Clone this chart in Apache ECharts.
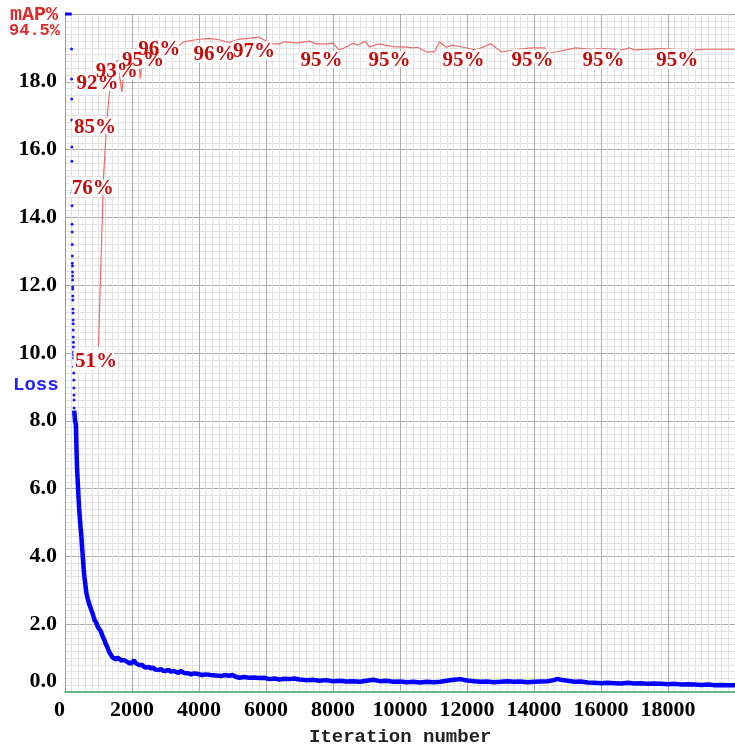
<!DOCTYPE html>
<html>
<head>
<meta charset="utf-8">
<script src="https://cdn.jsdelivr.net/npm/echarts@6/dist/echarts.min.js"></script>
<style>
  html, body { margin: 0; background: #fff; }
  #main { width: 735px; height: 747px; }
</style>
</head>
<body>
<div id="main"></div>
<script>
// loss > 20 at the start, drawn clipped at the top
var lossClipped = [[0, 20], [100, 20], [200, 20]];

// first iterations: loss falls fast, single dots
var lossDots = [
  [196, 18.97], [198, 18.08], [200, 17.49], [202, 16.87], [204, 16.08], [206, 15.66],
  [208, 14.72], [210, 14.34], [212, 13.8], [214, 13.57], [216, 13.2], [218, 12.86],
  [220, 12.65], [222, 12.57], [224, 12.39], [226, 12.27], [228, 12.15], [230, 11.95],
  [232, 11.89], [234, 11.68], [236, 11.56], [238, 11.3], [240, 11.18], [242, 10.97],
  [244, 10.86], [246, 10.68], [248, 10.47], [250, 10.32], [252, 10.18], [254, 10.03],
  [256, 9.94], [258, 9.85], [260, 9.6], [262, 9.41], [264, 9.2], [266, 8.97],
  [268, 8.76], [270, 8.61], [272, 8.38]
];

// avg loss after that
var lossLine = [
  [275, 8.3], [300, 8.0], [324, 7.9], [345, 7.1], [362, 6.55], [385, 6.1], [403, 5.75],
  [420, 5.45], [441, 5.16], [465, 4.85], [491, 4.57], [515, 4.2], [538, 3.9], [560, 3.6],
  [579, 3.4], [610, 3.15], [638, 2.92], [680, 2.75], [720, 2.6], [785, 2.42], [830, 2.3],
  [882, 2.12], [930, 2.05], [980, 1.92], [1030, 1.85], [1079, 1.77], [1130, 1.62],
  [1176, 1.53], [1225, 1.4], [1275, 1.3], [1320, 1.18], [1373, 1.09], [1420, 1.02],
  [1470, 1.0], [1520, 0.96], [1570, 1.02], [1617, 0.98], [1680, 0.93], [1720, 0.97],
  [1764, 0.94], [1820, 0.9], [1870, 0.88], [1912, 0.85], [1960, 0.83], [2000, 0.88],
  [2060, 0.94], [2100, 0.86], [2150, 0.82], [2206, 0.8], [2260, 0.77], [2310, 0.8],
  [2360, 0.74], [2420, 0.72], [2500, 0.74], [2560, 0.7], [2620, 0.72], [2700, 0.66],
  [2794, 0.65], [2860, 0.68], [2920, 0.63], [3000, 0.62], [3088, 0.65], [3160, 0.6],
  [3250, 0.62], [3300, 0.58], [3382, 0.56], [3450, 0.62], [3500, 0.66], [3560, 0.56],
  [3676, 0.55], [3760, 0.52], [3850, 0.55], [3970, 0.53], [4100, 0.5], [4200, 0.52],
  [4350, 0.5], [4500, 0.49], [4650, 0.47], [4760, 0.5], [4900, 0.48], [5000, 0.5],
  [5100, 0.45], [5200, 0.42], [5350, 0.44], [5500, 0.42], [5650, 0.43], [5800, 0.41],
  [5950, 0.42], [6100, 0.38], [6250, 0.4], [6400, 0.37], [6550, 0.39], [6700, 0.38],
  [6850, 0.4], [7000, 0.37], [7200, 0.35], [7400, 0.36], [7600, 0.33], [7800, 0.35],
  [8000, 0.32], [8200, 0.33], [8400, 0.31], [8600, 0.32], [8800, 0.3], [9000, 0.33],
  [9200, 0.36], [9400, 0.32], [9600, 0.33], [9800, 0.3], [10000, 0.31], [10200, 0.29],
  [10400, 0.3], [10600, 0.28], [10800, 0.3], [11000, 0.29], [11200, 0.3], [11400, 0.33],
  [11600, 0.36], [11800, 0.38], [12000, 0.34], [12200, 0.32], [12400, 0.3], [12600, 0.31],
  [12800, 0.29], [13000, 0.3], [13200, 0.32], [13400, 0.3], [13600, 0.31], [13800, 0.29],
  [14000, 0.3], [14200, 0.31], [14400, 0.32], [14600, 0.35], [14700, 0.39], [14800, 0.36],
  [15000, 0.33], [15200, 0.3], [15400, 0.31], [15600, 0.28], [15800, 0.27], [16000, 0.26],
  [16200, 0.27], [16400, 0.26], [16600, 0.25], [16800, 0.27], [17000, 0.25], [17200, 0.26],
  [17400, 0.24], [17600, 0.25], [17800, 0.24], [18000, 0.23], [18200, 0.24], [18400, 0.22],
  [18600, 0.23], [18800, 0.22], [19000, 0.21], [19200, 0.22], [19400, 0.2], [19600, 0.21],
  [19800, 0.2], [20000, 0.2]
];

// mAP in %, drawn on the loss scale (100% = 20.0)
var mapPts = [
  [1000, 51], [1150, 76], [1260, 85], [1400, 92], [1560, 93.2], [1700, 88.5], [1790, 93.5],
  [1950, 94.3], [2150, 95.0], [2250, 90.5], [2330, 95.0], [2600, 95.6], [2970, 96.2],
  [3300, 95.0], [3550, 95.9], [3900, 96.2], [4300, 96.4], [4600, 96.2], [4900, 95.8],
  [5200, 96.3], [5500, 96.4], [5765, 96.6], [6176, 95.6], [6412, 95.6], [6559, 95.9],
  [6912, 95.7], [7294, 96.0], [7500, 95.6], [7794, 95.6], [8000, 95.7], [8176, 94.7],
  [8382, 95.1], [8588, 95.7], [8735, 95.4], [8970, 96.0], [9088, 95.1], [9353, 95.6],
  [9794, 95.2], [10235, 95.1], [10382, 95.0], [10529, 95.1], [10794, 94.4], [11029, 94.4],
  [11176, 95.9], [11382, 95.1], [11559, 95.4], [11882, 95.1], [12265, 94.7], [12706, 95.6],
  [13029, 94.4], [13500, 94.8], [13941, 95.0], [14324, 95.0], [14412, 94.2], [14647, 94.4],
  [15235, 95.0], [15700, 94.8], [16059, 94.9], [16412, 94.8], [16618, 94.7], [16853, 95.0],
  [17000, 94.7], [17353, 94.8], [17800, 94.9], [18206, 94.8], [18618, 94.4], [18765, 94.7],
  [19176, 94.8], [19706, 94.8], [20000, 94.8]
];

// where the mAP texts sit: [iteration, mAP %, text]
var mapLabels = [
  [1148, 50.4, '51%'], [1050, 75.8, '76%'], [1118, 84.8, '85%'], [1197, 91.4, '92%'],
  [1766, 93.2, '93%'], [2551, 94.8, '95%'], [3039, 96.4, '96%'], [4687, 95.6, '96%'],
  [5863, 96.1, '97%'], [7883, 94.7, '95%'], [9913, 94.7, '95%'], [12119, 94.7, '95%'],
  [14179, 94.7, '95%'], [16297, 94.7, '95%'], [18500, 94.7, '95%']
];

var chartDom = document.getElementById('main');
var myChart = echarts.init(chartDom);
var option;

var serif = 'Liberation Serif';
var hershey = 'Liberation Mono';

var labelData = mapLabels.map(function (p) { return { value: [p[0], p[1] * 0.2], text: p[2] }; });

// text layer for the mAP values: a white halo below, red text above
function mapTextSeries(isHalo) {
  return {
    name: isHalo ? 'mAPHalo' : 'mAPText',
    type: 'scatter',
    data: labelData,
    symbolSize: 1,
    itemStyle: { color: 'rgba(0,0,0,0)', opacity: 1 },
    label: {
      show: true,
      position: [-28, 1],
      formatter: function (d) { return d.data.text; },
      fontFamily: serif,
      fontSize: 21,
      fontWeight: 'bold',
      color: isHalo ? '#fff' : '#c80a0a',
      textBorderColor: isHalo ? '#fff' : 'transparent',
      textBorderWidth: isHalo ? 6 : 0
    },
    z: isHalo ? 6 : 7
  };
}

option = {
  animation: false,
  backgroundColor: '#fff',
  grid: { left: 65, right: -9, top: 14, bottom: 55 },
  xAxis: {
    type: 'value',
    min: 0,
    max: 20000,
    interval: 2000,
    axisLine: { show: true, onZero: false, lineStyle: { color: '#6ab58a', width: 2 } },
    axisTick: { show: false },
    axisLabel: {
      fontFamily: serif,
      fontSize: 22,
      fontWeight: 'bold',
      color: '#000',
      margin: 7,
      showMaxLabel: false,
      alignMinLabel: 'right',
      formatter: function (v) { return String(v); }
    },
    splitLine: { show: true, lineStyle: { color: '#ababab', width: 1 } },
    minorTick: { show: false, splitNumber: 10 },
    minorSplitLine: { show: true, lineStyle: { color: '#e2e2e2', width: 1 } }
  },
  yAxis: {
    type: 'value',
    min: 0,
    max: 20,
    interval: 2,
    axisLine: { show: true, lineStyle: { color: '#9a9a9a', width: 1 } },
    axisTick: { show: false },
    axisLabel: {
      fontFamily: serif,
      fontSize: 22,
      fontWeight: 'bold',
      color: '#000',
      margin: 8,
      showMaxLabel: false,
      verticalAlignMinLabel: 'bottom',
      formatter: function (v) { return v.toFixed(1); }
    },
    splitLine: { show: true, lineStyle: { color: '#ababab', width: 1 } },
    minorTick: { show: false, splitNumber: 10 },
    minorSplitLine: { show: true, lineStyle: { color: '#e2e2e2', width: 1 } }
  },
  graphic: [
    { type: 'text', left: 10, top: 5, style: { text: 'mAP%', font: 'bold 20px ' + hershey, fill: '#e02a2a' } },
    { type: 'text', left: 9, top: 22, style: { text: '94.5%', font: 'bold 17px ' + hershey, fill: '#e02a2a' } },
    { type: 'text', left: 13, top: 376, style: { text: 'Loss', font: 'bold 19px ' + hershey, fill: '#2323ff' } },
    { type: 'text', left: 309, top: 728, style: { text: 'Iteration number', font: 'bold 19px ' + hershey, fill: '#222' } }
  ],
  series: [
    {
      name: 'mAP',
      type: 'line',
      data: mapPts.map(function (p) { return [p[0], p[1] * 0.2]; }),
      showSymbol: false,
      lineStyle: { color: '#f26a6a', width: 1.2 },
      z: 3
    },
    {
      name: 'lossTop',
      type: 'line',
      data: lossClipped,
      showSymbol: false,
      clip: false,
      lineStyle: { color: '#0000ff', width: 3 },
      z: 4
    },
    {
      name: 'lossDots',
      type: 'scatter',
      data: lossDots,
      symbolSize: 3,
      itemStyle: { color: '#1a1aff', opacity: 1 },
      z: 4
    },
    {
      name: 'loss',
      type: 'line',
      data: lossLine,
      showSymbol: false,
      lineStyle: { color: '#0000ff', width: 4.5 },
      z: 4
    },
    mapTextSeries(true),
    mapTextSeries(false)
  ]
};

option && myChart.setOption(option);
</script>
</body>
</html>
